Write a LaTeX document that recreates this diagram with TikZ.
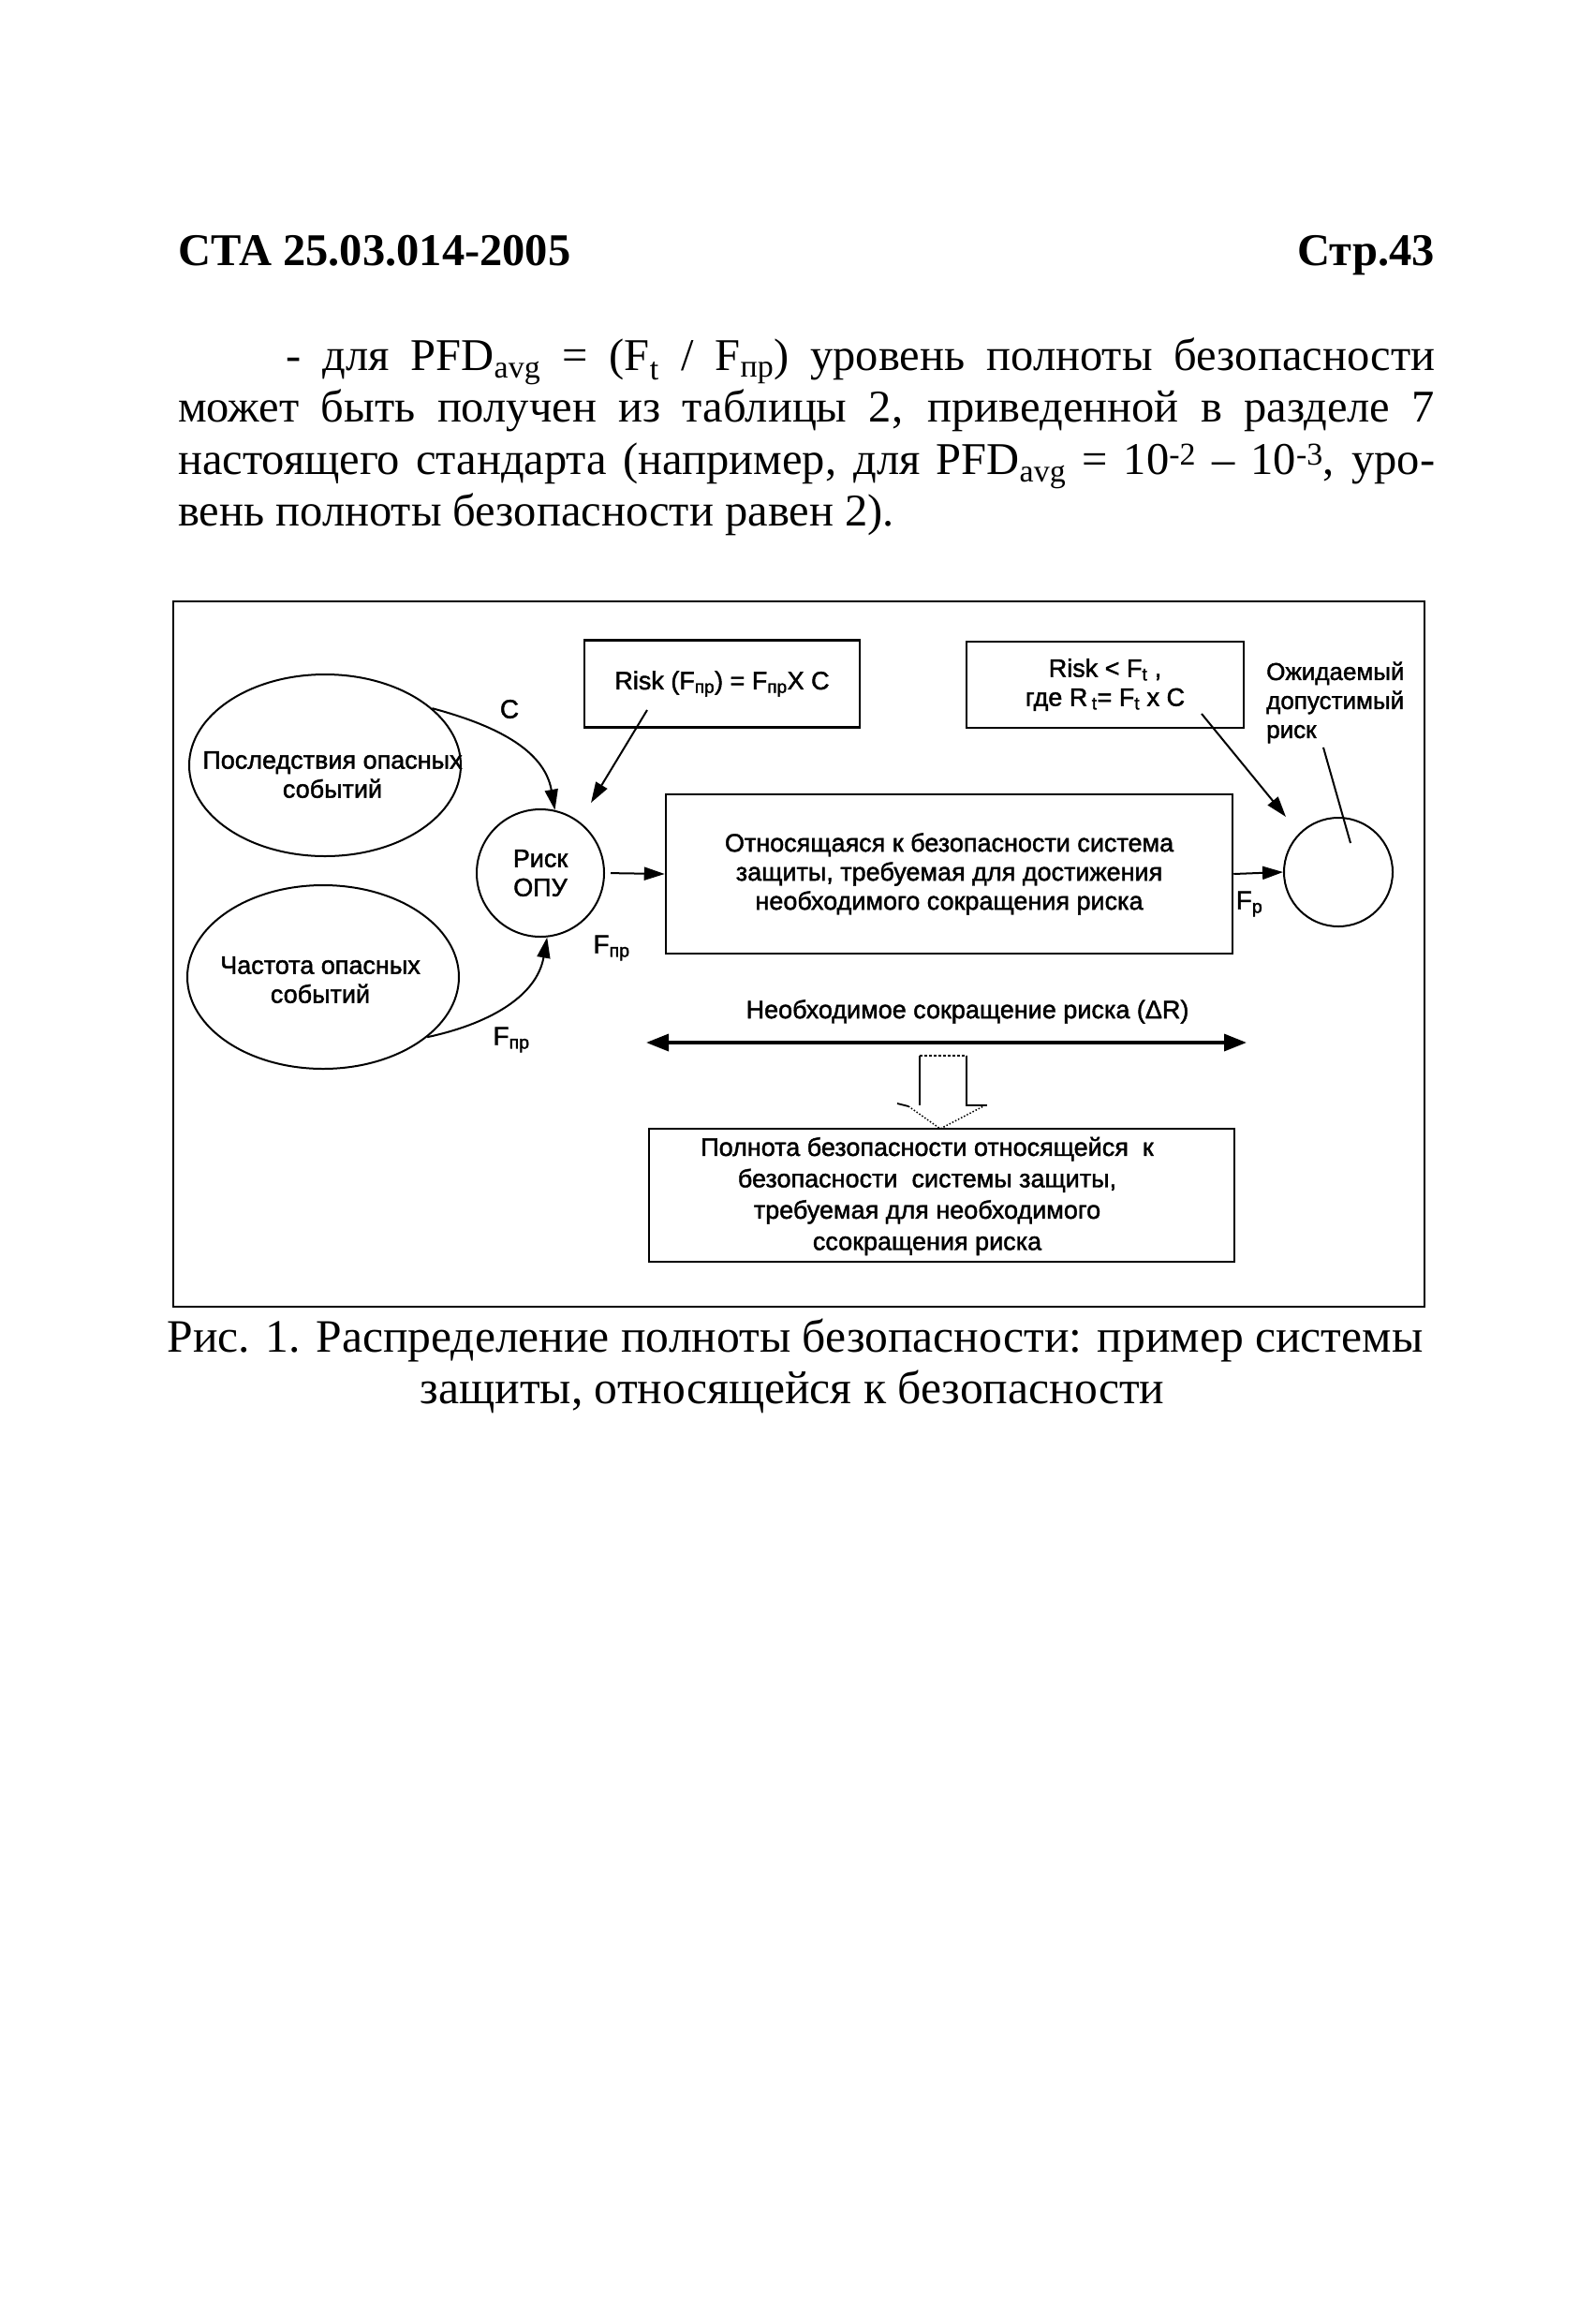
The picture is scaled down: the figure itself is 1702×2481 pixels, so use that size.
\documentclass[tikz,border=0pt]{standalone}
\usepackage{fontspec}
\setmainfont{Liberation Serif}
\newfontfamily\dsans{Liberation Sans}[FakeBold=1.6]
\usetikzlibrary{arrows.meta,shapes.geometric}
\newcommand\bodyfnt{\fontsize{48.5}{55.5}\selectfont}
\newcommand\capfnt{\fontsize{49.6}{55.5}\selectfont}
\newcommand\dfnt{\dsans\fontsize{27}{31}\selectfont}
\tikzset{
  ptext/.style={inner sep=0, font=\bodyfnt},
  dtxt/.style={inner sep=0, font=\dfnt, align=center},
  labtxt/.style={inner sep=0, font=\dsans\fontsize{28}{30}\selectfont},
  boxst/.style={draw, line width=2.5pt, inner sep=0, font=\dfnt, align=center},
  ellst/.style={draw, ellipse, line width=2pt, inner sep=0},
  circst/.style={draw, circle, line width=2pt, inner sep=0},
  arr/.style={line width=2pt, -{Triangle[length=22pt,width=14pt]}},
  dblarr/.style={line width=3.5pt, {Triangle[length=24pt,width=18pt]}-{Triangle[length=24pt,width=18pt]}},
}
\begin{document}
\begin{tikzpicture}[x=1pt,y=-1pt]
\useasboundingbox (0,0) rectangle (1702,2481);
% header
\node[ptext, anchor=base west, font=\bodyfnt\bfseries] (hdl) at (190,283) {СТА 25.03.014-2005};
\node[ptext, anchor=base east, font=\bodyfnt\bfseries] (hdr) at (1532,283) {Стр.43};
% paragraph
\node[ptext, anchor=base west] (p1) at (305,395) {\makebox[1227pt][s]{- для PFD\textsubscript{avg} = (F\textsubscript{t} / F\textsubscript{пр}) уровень полноты безопасности}};
\node[ptext, anchor=base west] (p2) at (190,450) {\makebox[1342pt][s]{может быть получен из таблицы 2, приведенной в разделе 7}};
\node[ptext, anchor=base west] (p3) at (190,506) {\makebox[1342pt][s]{настоящего стандарта (например, для PFD\textsubscript{avg} = 10\textsuperscript{-2} – 10\textsuperscript{-3}, уро-}};
\node[ptext, anchor=base west] (p4) at (190,561) {вень полноты безопасности равен 2).};
% frame
\draw[line width=2pt] (185,642) rectangle (1521,1395);
% left ellipses
\node[ellst, minimum width=290pt, minimum height=194pt] (cons) at (347,817) {};
\node[dtxt] (constxt) at (355,827) {Последствия опасных\\событий};
\node[ellst, minimum width=290pt, minimum height=196pt] (freq) at (345,1043) {};
\node[dtxt] (freqtxt) at (342,1046) {Частота опасных\\событий};
% risk circle
\node[circst, minimum size=136pt, font=\dfnt, align=center] (riskopu) at (577,932) {Риск\\ОПУ};
% top boxes
\node[boxst, minimum width=294pt, minimum height=93pt] (riskbox) at (771,730) {Risk (F\textsubscript{пр}) = F\textsubscript{пр}X C};
\node[boxst, minimum width=296pt, minimum height=92pt] (rtbox) at (1180,731) {Risk < F\textsubscript{t} ,\\где R\,\textsubscript{t}= F\textsubscript{t} x C};
% main box
\node[boxst, minimum width=605pt, minimum height=170pt] (sysbox) at (1013.5,933) {Относящаяся к безопасности система\\защиты, требуемая для достижения\\необходимого сокращения риска};
% tolerable risk circle
\node[circst, minimum size=116pt] (tolrisk) at (1429,931) {};
\node[dtxt, align=left, anchor=west, font=\dsans\fontsize{26}{31}\selectfont] (tollab) at (1352,750) {Ожидаемый\\допустимый\\риск};
% labels
\node[labtxt] (labC) at (544,757) {C};
\node[labtxt] (labF1) at (653,1012) {F\textsubscript{пр}};
\node[labtxt] (labF2) at (546,1110) {F\textsubscript{пр}};
\node[labtxt] (labFp) at (1334,965) {F\textsubscript{р}};
% connectors
\draw[arr] (cons.28) to[out=-15,in=100] (riskopu.77);
\draw[arr] (freq.-30) to[out=12,in=-100] (riskopu.-84);
\coordinate (rb1) at (691,758);
\coordinate (rb2) at (631,857);
\draw[arr] (rb1) -- (rb2);
\draw[arr, shorten <=6pt] (riskopu.east) -- (sysbox.west);
\draw[arr] (sysbox.east) -- (tolrisk.west);
\coordinate (rt1) at (1283,762);
\coordinate (rt2) at (1373,872);
\draw[arr] (rt1) -- (rt2);
\coordinate (tl1) at (1413,798);
\coordinate (tl2) at (1442,900);
\draw[line width=2pt] (tl1) -- (tl2);
% delta R
\node[dtxt] (dRtxt) at (1033,1080) {Необходимое сокращение риска (ΔR)};
\coordinate (dRl) at (690,1113);
\coordinate (dRr) at (1331,1113);
\draw[dblarr] (dRl) -- (dRr);
% block arrow
\draw[line width=1.8pt] (982,1180) -- (982,1127);
\draw[line width=1.8pt, densely dashed] (982,1127) -- (1032,1127);
\draw[line width=1.8pt] (1032,1127) -- (1032,1180) -- (1054,1180);
\draw[line width=1.8pt] (958,1178) -- (970,1181);
\draw[line width=1.5pt, dotted] (970,1181) -- (1004,1205) -- (1050,1181);
% bottom box
\node[boxst, minimum width=625pt, minimum height=142pt] (silbox) at (1005.5,1276) {};
\node[dtxt, font=\dsans\fontsize{27}{33.5}\selectfont] (siltxt) at (990,1277) {Полнота безопасности относящейся\ \ к\\безопасности\ \ системы защиты,\\требуемая для необходимого\\ссокращения риска};
% caption
\node[ptext, anchor=base, font=\capfnt] (cap1) at (849,1443) {Рис. 1. Распределение полноты безопасности: пример системы};
\node[ptext, anchor=base, font=\capfnt] (cap2) at (846,1498) {защиты, относящейся к безопасности};
\end{tikzpicture}
\end{document}
